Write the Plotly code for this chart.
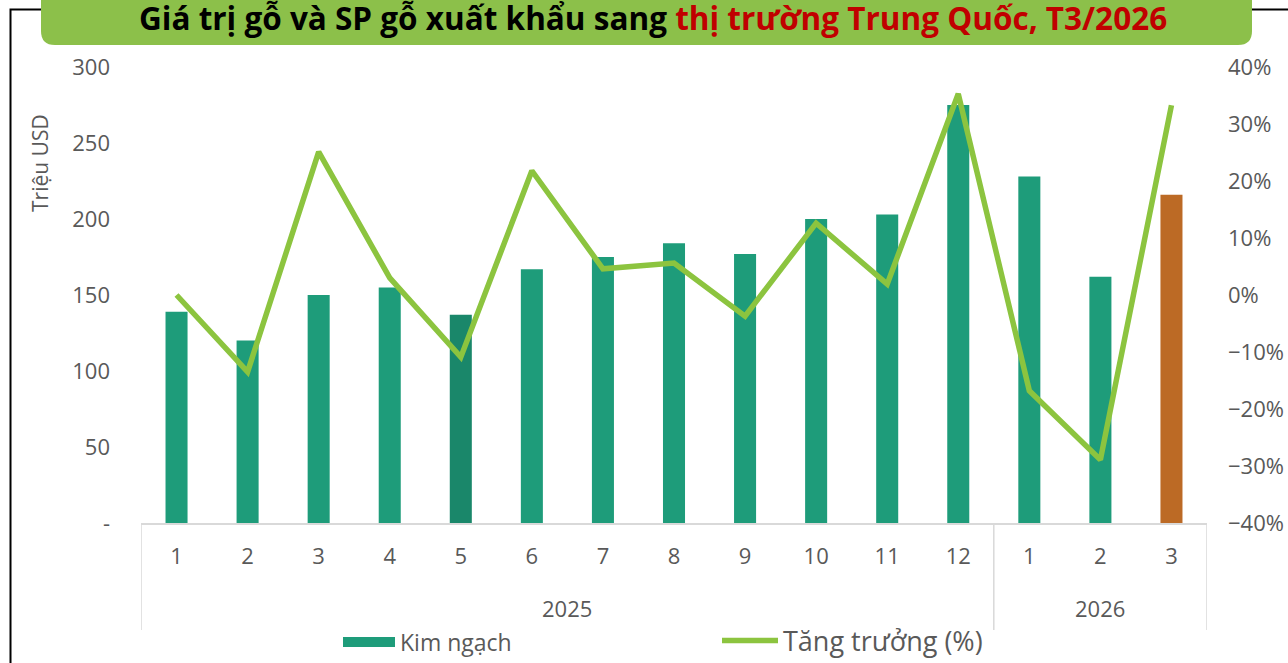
import plotly.graph_objects as go

# ---- data ----
years = ["2025"] * 12 + ["2026"] * 3
months = ["1", "2", "3", "4", "5", "6", "7", "8", "9", "10", "11", "12", "1", "2", "3"]
kim_ngach = [139, 120, 150, 155, 137, 167, 175, 184, 177, 200, 203, 275, 228, 162, 216]
tang_truong = [0.0, -13.5, 25.1, 3.0, -10.9, 21.8, 4.6, 5.6, -3.7, 12.6, 1.9, 35.3, -16.8, -28.9, 33.3]
left_ticks = [0, 50, 100, 150, 200, 250, 300]
left_ticktext = ["-", "50", "100", "150", "200", "250", "300"]

title_black = "Giá trị gỗ và SP gỗ xuất khẩu sang "
title_red = "thị trường Trung Quốc, T3/2026"

# ---- style ----
W, H = 1288, 663
L, R, T, B = 141, 1207, 67, 523  # plot area in pixels
GREEN_BAR = "#1E9C7A"
GREEN_BAR_DARK = "#1A876A"
ORANGE = "#BC6A25"
LINE_GREEN = "#8CC43F"
BANNER = "#8CC04A"
GREY = "#595959"
AXIS_GREY = "#D9D9D9"
FONT = "Open Sans"

def px_x(p):
    return (p - L) / (R - L)

def px_y(p):
    return (B - p) / (B - T)

xs = list(range(len(months)))

bar_colors = [GREEN_BAR] * len(kim_ngach)
bar_colors[4] = GREEN_BAR_DARK
bar_colors[-1] = ORANGE

fig = go.Figure()
fig.add_trace(go.Bar(
    x=xs, y=kim_ngach, name="Kim ngạch",
    marker=dict(color=bar_colors, line=dict(width=0)),
    width=0.31, yaxis="y", showlegend=False, legendgroup="kn",
))
# legend entry for the bars (wide flat swatch as in the original)
fig.add_trace(go.Scatter(
    x=[None], y=[None], name="Kim ngạch", mode="lines",
    line=dict(color=GREEN_BAR, width=15), legend="legend",
    showlegend=True, legendgroup="kn", hoverinfo="skip",
))
fig.add_trace(go.Scatter(
    x=xs, y=[v / 100 for v in tang_truong], name="Tăng trưởng (%)",
    mode="lines", line=dict(color=LINE_GREEN, width=5.5, shape="linear"),
    yaxis="y2", legend="legend2", showlegend=True,
))

# year groups: dividers and labels from the data
groups = []
for i, yv in enumerate(years):
    if not groups or groups[-1][0] != yv:
        groups.append([yv, i, i])
    else:
        groups[-1][2] = i

shapes = []
annotations = []
div_bottom = px_y(630)
bounds = sorted({g[1] - 0.5 for g in groups} | {g[2] + 0.5 for g in groups})
for bnd in bounds:
    shapes.append(dict(type="line", xref="x", yref="paper", x0=bnd, x1=bnd,
                       y0=0, y1=div_bottom, line=dict(color=AXIS_GREY, width=1.5)))
for yv, i0, i1 in groups:
    annotations.append(dict(xref="x", yref="paper", x=(i0 + i1) / 2, y=px_y(608),
                            xanchor="center", yanchor="middle", showarrow=False,
                            text=yv, font=dict(family=FONT, size=22, color=GREY)))

# frame and banner with rounded bottom corners
bx0, bx1, by0, by1, rad = 41, 1252, -30, 45, 14
def pt(x, y):
    return f"{px_x(x):.5f},{px_y(y):.5f}"
path = (f"M {pt(bx0, by0)} L {pt(bx1, by0)} L {pt(bx1, by1 - rad)} "
        f"Q {pt(bx1, by1)} {pt(bx1 - rad, by1)} L {pt(bx0 + rad, by1)} "
        f"Q {pt(bx0, by1)} {pt(bx0, by1 - rad)} Z")
shapes.insert(0, dict(type="rect", xref="paper", yref="paper",
                      x0=px_x(10.5), x1=px_x(1320), y0=px_y(9.5), y1=px_y(700),
                      line=dict(color="black", width=2), fillcolor="rgba(0,0,0,0)",
                      layer="below"))
shapes.append(dict(type="path", xref="paper", yref="paper", path=path,
                   fillcolor=BANNER, line=dict(width=0), layer="above"))

annotations.append(dict(
    xref="paper", yref="paper", x=px_x(653), y=px_y(17),
    xanchor="center", yanchor="middle", showarrow=False,
    text=f"<b>{title_black}<span style='color:#C00000'>{title_red}</span></b>",
    font=dict(family=FONT, size=31.5, color="black")))
annotations.append(dict(
    xref="paper", yref="paper", x=px_x(40), y=px_y(163),
    xanchor="center", yanchor="middle", showarrow=False, textangle=-90,
    text="Triệu USD", font=dict(family=FONT, size=21, color=GREY)))

fig.update_layout(
    width=W, height=H,
    margin=dict(l=L, r=W - R, t=T, b=H - B, pad=0, autoexpand=False),
    paper_bgcolor="white", plot_bgcolor="white",
    font=dict(family=FONT, color=GREY, size=22),
    showlegend=True,
    xaxis=dict(
        range=[-0.5, len(months) - 0.5], tickvals=xs, ticktext=months,
        showline=True, linecolor=AXIS_GREY, linewidth=1.5,
        ticks="", tickfont=dict(size=22, color=GREY), showgrid=False,
        zeroline=False, ticklabelstandoff=13, automargin=False,
    ),
    yaxis=dict(
        range=[0, 300], tickvals=left_ticks, ticktext=left_ticktext,
        showgrid=False, zeroline=False, showline=False, ticks="",
        tickfont=dict(size=22, color=GREY), ticklabelstandoff=30, automargin=False,
    ),
    yaxis2=dict(
        range=[-0.4, 0.4], dtick=0.1, tick0=-0.4, tickformat=".0%",
        overlaying="y", side="right", showgrid=False, zeroline=False,
        showline=False, ticks="", tickfont=dict(size=22, color=GREY),
        ticklabelstandoff=20, automargin=False,
    ),
    legend=dict(
        xref="container", yref="container",
        x=338 / W, y=1 - 642 / H, xanchor="left", yanchor="middle",
        orientation="h", font=dict(size=23, color=GREY, family=FONT),
        bgcolor="rgba(0,0,0,0)", itemwidth=52,
    ),
    legend2=dict(
        xref="container", yref="container",
        x=717 / W, y=1 - 641 / H, xanchor="left", yanchor="middle",
        orientation="h", font=dict(size=27, color=GREY, family=FONT),
        bgcolor="rgba(0,0,0,0)", itemwidth=56,
    ),
    shapes=shapes,
    annotations=annotations,
)

fig.write_html("out.html", config={"displayModeBar": False},
               post_script="document.body.style.margin='0';")
